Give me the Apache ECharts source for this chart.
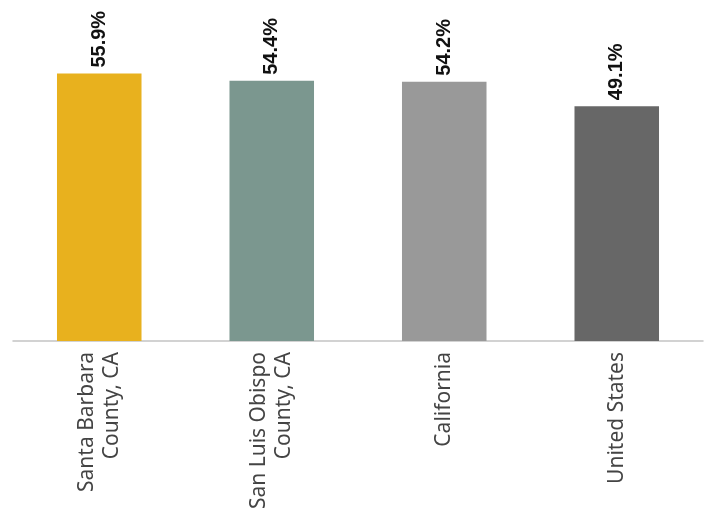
<!DOCTYPE html>
<html>
<head>
<meta charset="utf-8">
<script src="https://cdn.jsdelivr.net/npm/echarts@6/dist/echarts.min.js"></script>
<style>
html,body{margin:0;padding:0;background:#fff;}
#chart{width:709px;height:508px;}
</style>
</head>
<body>
<div id="chart"></div>
<script>
// Share of population, by area
const categories = ['Santa Barbara\nCounty, CA', 'San Luis Obispo\nCounty, CA', 'California', 'United States'];
const values = [55.9, 54.4, 54.2, 49.1];
const barColors = ['#E8B11E', '#7B978F', '#999999', '#676767'];

const chart = echarts.init(document.getElementById('chart'), null, { renderer: 'canvas' });
chart.setOption({
  animation: false,
  grid: { left: 13, right: 6, top: 54, bottom: 167, containLabel: false, outerBoundsMode: 'none' },
  xAxis: {
    type: 'category',
    data: categories,
    axisLine: { show: true, lineStyle: { color: '#c4c4c4', width: 1.5 } },
    axisTick: { show: false },
    axisLabel: {
      rotate: 90,
      interval: 0,
      margin: 11,
      fontFamily: 'Noto Sans',
      fontSize: 21,
      lineHeight: 25,
      color: '#444444'
    }
  },
  yAxis: {
    type: 'value',
    min: 0,
    max: 60,
    show: false,
    splitLine: { show: false }
  },
  series: [{
    type: 'bar',
    barWidth: '49%',
    data: values.map((v, i) => ({ value: v, itemStyle: { color: barColors[i] } })),
    label: {
      show: true,
      position: 'top',
      rotate: 90,
      align: 'left',
      verticalAlign: 'middle',
      distance: 6,
      fontFamily: 'Liberation Sans',
      fontWeight: 'bold',
      fontSize: 20,
      color: '#111111',
      formatter: p => p.value.toFixed(1) + '%'
    }
  }]
});
</script>
</body>
</html>
